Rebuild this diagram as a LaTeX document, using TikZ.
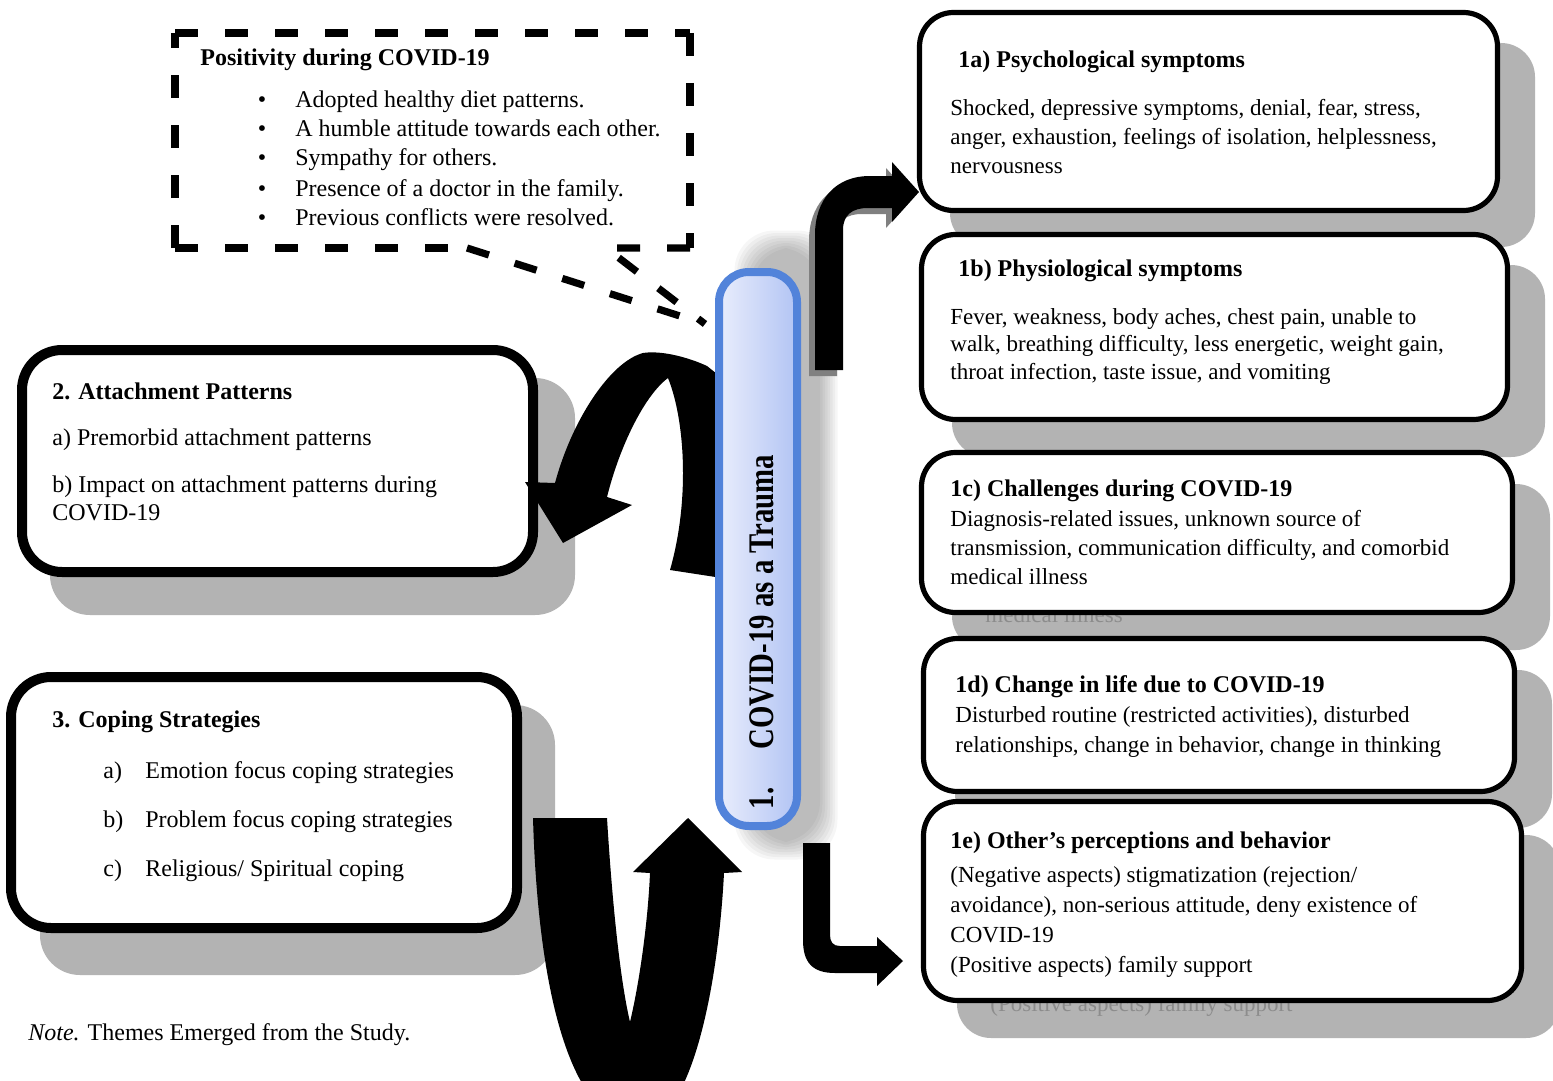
\documentclass[tikz,border=0pt]{standalone}
\usepackage{fontspec}
\setmainfont{Liberation Serif}
\usepackage{graphicx}
\definecolor{shadowgray}{RGB}{179,179,179}
\definecolor{ghostgray}{RGB}{140,140,140}
\definecolor{barblue}{RGB}{82,131,218}
\definecolor{barleft}{RGB}{233,237,252}
\definecolor{barright}{RGB}{178,196,244}
\definecolor{arrowshadow}{RGB}{128,128,128}
\begin{document}
\begin{tikzpicture}[x=0.5pt,y=-0.5pt,
  rbox/.style={draw=black,line width=2.6pt,rounded corners=17pt,fill=white},
  lbox/.style={draw=black,line width=5pt,rounded corners=20pt,fill=white},
  rshadow/.style={fill=shadowgray,rounded corners=17pt},
  lshadow/.style={fill=shadowgray,rounded corners=20pt},
  ttl/.style={anchor=base west,inner sep=0pt,font=\fontsize{12}{14}\selectfont\bfseries},
  txt/.style={anchor=base west,inner sep=0pt,align=left,font=\fontsize{11.5}{14.25}\selectfont},
  ltxt/.style={anchor=base west,inner sep=0pt,align=left,font=\fontsize{12}{14}\selectfont},
  ghost/.style={txt,text=ghostgray},
  dashline/.style={line width=3.6pt,dash pattern=on 11.5pt off 13.5pt},
  blockarrow/.style={fill=black},
]
\path[use as bounding box] (0,0) rectangle (1553,1081);
\clip (0,0) rectangle (1553,1081);
\fill[white] (0,0) rectangle (1553,1081);

% ---------- shadows of the boxes ----------
\fill[rshadow] (950,43) rectangle (1535,247);
\fill[rshadow] (952,265) rectangle (1545,457);
\fill[rshadow] (952,484) rectangle (1550,650);
\fill[rshadow] (955,670) rectangle (1552,828);
\fill[rshadow] (957,835) rectangle (1560,1038);
\fill[lshadow] (50,378) rectangle (575,615);
\fill[lshadow] (40,705) rectangle (555,975);
\node[ghost] (g1c) at (985,622) {medical illness};
\node[ghost] (g1e) at (990,1011) {(Positive aspects) family support};

% ---------- boxes ----------
\draw[rbox] (919.5,12.5) rectangle (1497.5,210.5);
\draw[rbox] (921.5,234.5) rectangle (1507.5,419.5);
\draw[rbox] (921.5,452.5) rectangle (1512.5,612.5);
\draw[rbox] (923.5,638.5) rectangle (1514.5,791.5);
\draw[rbox] (923.5,801.5) rectangle (1521.5,1000.5);
\draw[lbox] (22,350) rectangle (533,572);
\draw[lbox] (11,677) rectangle (517,928);

% ---------- texts of right boxes (multi-line nodes placed by their last baseline) ----------
\node[ttl] (t1a) at (958,68) {1a) Psychological symptoms};
\node[txt] (b1a) at (950,173) {Shocked, depressive symptoms, denial, fear, stress,\\anger, exhaustion, feelings of isolation, helplessness,\\nervousness};
\node[ttl] (t1b) at (958,276) {1b) Physiological symptoms};
\node[txt,font=\fontsize{11.5}{13.75}\selectfont] (b1b) at (950,379) {Fever, weakness, body aches, chest pain, unable to\\walk, breathing difficulty, less energetic, weight gain,\\throat infection, taste issue, and vomiting};
\node[ttl] (t1c) at (950,496) {1c) Challenges during COVID-19};
\node[txt,font=\fontsize{11.5}{14.5}\selectfont] (b1c) at (950,584) {Diagnosis-related issues, unknown source of\\transmission, communication difficulty, and comorbid\\medical illness};
\node[ttl] (t1d) at (955,692) {1d) Change in life due to COVID-19};
\node[txt,font=\fontsize{11.5}{15}\selectfont] (b1d) at (955,752) {Disturbed routine (restricted activities), disturbed\\relationships, change in behavior, change in thinking};
\node[ttl] (t1e) at (950,848) {1e) Other’s perceptions and behavior};
\node[txt,font=\fontsize{11.5}{15}\selectfont] (b1e) at (950,972) {(Negative aspects) stigmatization (rejection/\\avoidance), non-serious attitude, deny existence of\\COVID-19\\(Positive aspects) family support};

% ---------- texts of left boxes ----------
\node[ttl] (t2) at (52,399) {2. Attachment Patterns};
\node[ltxt] (b2a) at (52,445) {a) Premorbid attachment patterns};
\node[ltxt] (b2b) at (52,520) {b) Impact on attachment patterns during\\COVID-19};
\node[ttl] (t3) at (52,727) {3. Coping Strategies};
\node[ltxt] (l3a) at (103,778) {a)};
\node[ltxt] (b3a) at (145,778) {Emotion focus coping strategies};
\node[ltxt] (l3b) at (103,827) {b)};
\node[ltxt] (b3b) at (145,827) {Problem focus coping strategies};
\node[ltxt] (l3c) at (103,876) {c)};
\node[ltxt] (b3c) at (145,876) {Religious/ Spiritual coping};

% ---------- dashed callout ----------
\draw[dashline] (175,33) -- (690,33);
\draw[dashline] (690,33) -- (690,248);
\draw[dashline] (175,248) -- (175,33);
\draw[dashline] (175,248) -- (467,248);
\draw[dashline] (467,248) -- (705,324);
\draw[dashline] (690,248) -- (606,248) -- (705,324);
\node[ttl] (tpos) at (200,66) {Positivity during COVID-19};
\foreach \yy/\tx [count=\k] in {108/Adopted healthy diet patterns.,137/A humble attitude towards each other.,166/Sympathy for others.,196/Presence of a doctor in the family.,225/Previous conflicts were resolved.}{
  \node[ltxt,anchor=base] (bul\k) at (262,\yy) {\textbullet};
  \node[ltxt] (pos\k) at (295,\yy) {\tx};
}

% ---------- note ----------
\node[ltxt] (note) at (28,1040) {\textit{Note.} Themes Emerged from the Study.};

% ---------- soft shadow of the central bar ----------
\foreach \i in {0,...,7}{
  \fill[black,opacity=0.035,rounded corners=20pt] (752-2.5*\i,248-2.5*\i) rectangle (820+2.5*\i,842+2.5*\i);
}

% ---------- curved arrow to box 2 ----------
\fill[blockarrow] (722,578) -- (722,378) -- (707,366)
  .. controls (690,358) and (662,350) .. (643,353)
  .. controls (610,362) and (572,420) .. (555,483)
  -- (525,482) -- (563,543) -- (632,505) -- (607,497)
  .. controls (620,445) and (645,395) .. (668,378)
  .. controls (685,420) and (690,500) .. (670,570) -- cycle;

% ---------- U arrow at the bottom ----------
\fill[blockarrow] (533,818) -- (607,818)
  .. controls (612,900) and (620,980) .. (630,1022)
  .. controls (640,980) and (648,920) .. (650,873)
  -- (633,872) -- (688,818) -- (742,872) -- (724,873)
  .. controls (718,990) and (690,1125) .. (640,1125)
  .. controls (570,1125) and (538,990) .. (533,818) -- cycle;

% ---------- central bar ----------
\draw[line width=4pt,draw=barblue,rounded corners=15pt,left color=barleft,right color=barright] (719,272) rectangle (797,826);
\node[rotate=90,inner sep=0pt,font=\fontsize{18}{20}\selectfont\bfseries] (bar) at (762,632) {\scalebox{0.8}[1]{1.\hspace{24pt}COVID-19 as a Trauma}};

% ---------- arrow to 1a ----------
\begin{scope}[shift={(-6,6)}]
\fill[arrowshadow] (815,370) -- (815,235) .. controls (815,200) and (835,176) .. (870,176) -- (892,176) -- (892,162) -- (919,192) -- (892,222) -- (892,208) -- (868,208) .. controls (852,208) and (843,215) .. (843,230) -- (843,370) -- cycle;
\end{scope}
\fill[blockarrow] (815,370) -- (815,235) .. controls (815,200) and (835,176) .. (870,176) -- (892,176) -- (892,162) -- (919,192) -- (892,222) -- (892,208) -- (868,208) .. controls (852,208) and (843,215) .. (843,230) -- (843,370) -- cycle;

% ---------- arrow to 1e ----------
\fill[blockarrow] (803,843) -- (803,940) .. controls (803,962) and (812,973) .. (835,973) -- (877,973) -- (877,986) -- (903,961) -- (877,937) -- (877,946) -- (840,946) .. controls (833,946) and (830,942) .. (830,935) -- (830,843) -- cycle;
\end{tikzpicture}
\end{document}
